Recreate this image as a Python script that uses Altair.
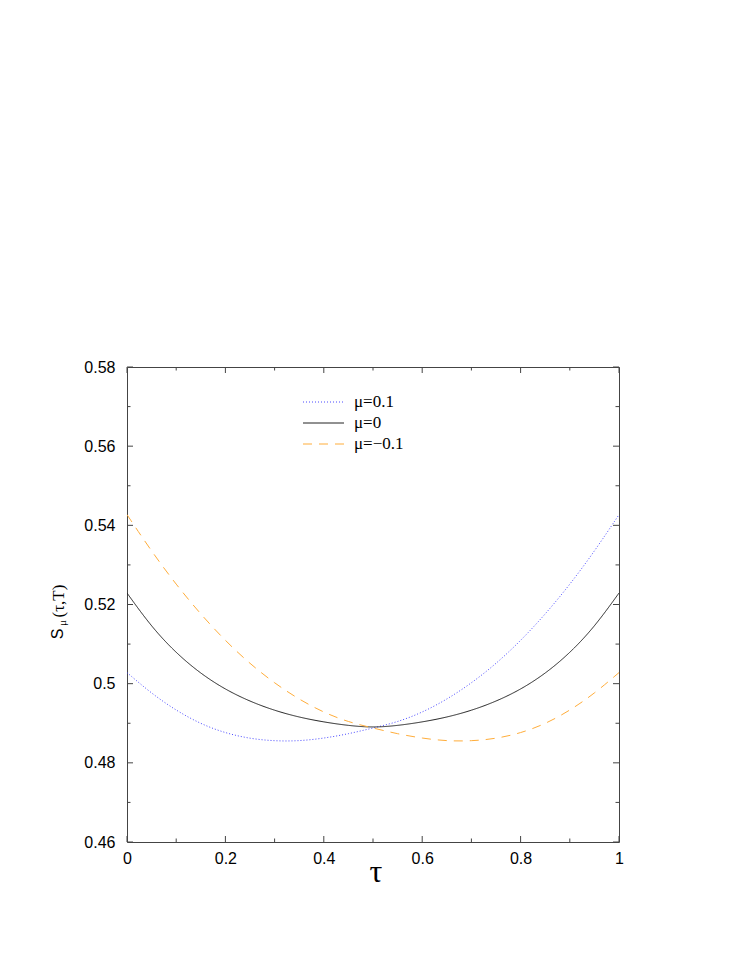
import altair as alt
import pandas as pd

# ---- data ----
tau = [0.0, 0.05, 0.1, 0.15, 0.2, 0.25, 0.3, 0.35, 0.4, 0.45, 0.5,
       0.55, 0.6, 0.65, 0.7, 0.75, 0.8, 0.85, 0.9, 0.95, 1.0]
s_mu_pos = [0.5028, 0.4975, 0.4932, 0.4898, 0.4875, 0.4861, 0.4855, 0.4855, 0.4862, 0.4873, 0.4888,
            0.4903, 0.4927, 0.4960, 0.5001, 0.5050, 0.5108, 0.5175, 0.5250, 0.5334, 0.5427]
s_mu_zero = [0.5229, 0.5143, 0.5077, 0.5025, 0.4985, 0.4955, 0.4932, 0.4915, 0.4903, 0.4894, 0.4889,
             0.4894, 0.4903, 0.4915, 0.4932, 0.4955, 0.4985, 0.5025, 0.5077, 0.5143, 0.5229]
s_mu_neg = [0.5427, 0.5334, 0.5250, 0.5175, 0.5108, 0.5050, 0.5001, 0.4960, 0.4927, 0.4903, 0.4888,
            0.4873, 0.4862, 0.4855, 0.4855, 0.4861, 0.4875, 0.4898, 0.4932, 0.4975, 0.5028]
series_labels = ["μ=0.1", "μ=0", "μ=−0.1"]
series_colors = ["#4a4aff", "#222222", "#ffad3a"]
series_dash = [[1, 2], [1, 0], [9, 7]]

x_major = [0.0, 0.2, 0.4, 0.6, 0.8, 1.0]
x_minor = [0.1, 0.3, 0.5, 0.7, 0.9]
y_major = [0.46, 0.48, 0.50, 0.52, 0.54, 0.56, 0.58]
y_minor = [0.47, 0.49, 0.51, 0.53, 0.55, 0.57]

W, H = 492, 475
MAJ, MIN = 6, 3.5
AX = "#444444"

rows = []
for lbl, vals in zip(series_labels, [s_mu_pos, s_mu_zero, s_mu_neg]):
    for t, v in zip(tau, vals):
        rows.append({"tau": t, "S": v, "mu": lbl})
df = pd.DataFrame(rows)

xscale = alt.Scale(domain=[0, 1], nice=False, zero=False)
yscale = alt.Scale(domain=[0.46, 0.58], nice=False, zero=False)
x_axis = alt.Axis(values=x_major, format="~g", title=None, grid=False, domain=False,
                  ticks=False, tickSize=0, labelPadding=8, labelFlush=False,
                  labelFont="Liberation Sans", labelFontSize=16, labelColor="#000000",
                  labelOverlap=False)
y_axis = alt.Axis(values=y_major, format="~g", title=None, grid=False, domain=False,
                  ticks=False, tickSize=0, labelPadding=12, labelFlush=False,
                  labelFont="Liberation Sans", labelFontSize=16, labelColor="#000000",
                  labelOverlap=False)

lines = alt.Chart(df).mark_line(strokeWidth=1, interpolate="basis", clip=True).encode(
    x=alt.X("tau:Q", scale=xscale, axis=x_axis),
    y=alt.Y("S:Q", scale=yscale, axis=y_axis),
    color=alt.Color("mu:N", scale=alt.Scale(domain=series_labels, range=series_colors), legend=None),
    strokeDash=alt.StrokeDash("mu:N", scale=alt.Scale(domain=series_labels, range=series_dash), legend=None),
    detail="mu:N",
)

layers = [lines]

# inward ticks on all four sides
for vals, ln in [(x_major, MAJ), (x_minor, MIN)]:
    d = pd.DataFrame({"tau": vals})
    layers.append(alt.Chart(d).mark_rule(color=AX, strokeWidth=1).encode(
        x=alt.X("tau:Q", scale=xscale, axis=x_axis), y=alt.value(H), y2=alt.value(H - ln)))
    layers.append(alt.Chart(d).mark_rule(color=AX, strokeWidth=1).encode(
        x=alt.X("tau:Q", scale=xscale, axis=x_axis), y=alt.value(0), y2=alt.value(ln)))
for vals, ln in [(y_major, MAJ), (y_minor, MIN)]:
    d = pd.DataFrame({"S": vals})
    layers.append(alt.Chart(d).mark_rule(color=AX, strokeWidth=1).encode(
        y=alt.Y("S:Q", scale=yscale, axis=y_axis), x=alt.value(0), x2=alt.value(ln)))
    layers.append(alt.Chart(d).mark_rule(color=AX, strokeWidth=1).encode(
        y=alt.Y("S:Q", scale=yscale, axis=y_axis), x=alt.value(W), x2=alt.value(W - ln)))

# legend (drawn by hand, top centre of the plot)
leg_x0, leg_x1, leg_tx = 176, 217, 227
leg_ys = [35, 56, 77]
for lbl, col, dash, yy in zip(series_labels, series_colors, series_dash, leg_ys):
    d = pd.DataFrame({"lbl": [lbl]})
    layers.append(alt.Chart(d).mark_rule(color=col, strokeWidth=1, strokeDash=dash).encode(
        x=alt.value(leg_x0), x2=alt.value(leg_x1), y=alt.value(yy)))
    layers.append(alt.Chart(d).mark_text(align="left", baseline="middle", font="Liberation Serif",
                                         fontSize=17, color="#000000").encode(
        text="lbl:N", x=alt.value(leg_tx), y=alt.value(yy)))

# axis titles
layers.append(alt.Chart(pd.DataFrame({"t": ["τ"]})).mark_text(
    align="center", baseline="alphabetic", font="Liberation Serif", fontSize=32, color="#000000").encode(
    text="t:N", x=alt.value(249), y=alt.value(515)))
layers.append(alt.Chart(pd.DataFrame({"t": ["S"]})).mark_text(
    align="center", baseline="middle", font="Liberation Sans", fontSize=16, angle=270, color="#000000").encode(
    text="t:N", x=alt.value(-69), y=alt.value(267)))
layers.append(alt.Chart(pd.DataFrame({"t": ["μ"]})).mark_text(
    align="center", baseline="middle", font="Liberation Serif", fontSize=11, angle=270, color="#000000").encode(
    text="t:N", x=alt.value(-64), y=alt.value(256)))
layers.append(alt.Chart(pd.DataFrame({"t": ["(τ,T)"]})).mark_text(
    align="center", baseline="middle", font="Liberation Serif", fontSize=17, angle=270, color="#000000").encode(
    text="t:N", x=alt.value(-68), y=alt.value(234)))

chart = alt.layer(*layers).properties(
    width=W, height=H,
    autosize=alt.AutoSizeParams(type="none"),
    padding={"left": 119, "top": 359, "right": 40, "bottom": 100},
).configure(background="white", view=alt.ViewConfig(stroke=AX, strokeWidth=1))

chart.save("out.html", embed_options={"renderer": "svg", "actions": False})
